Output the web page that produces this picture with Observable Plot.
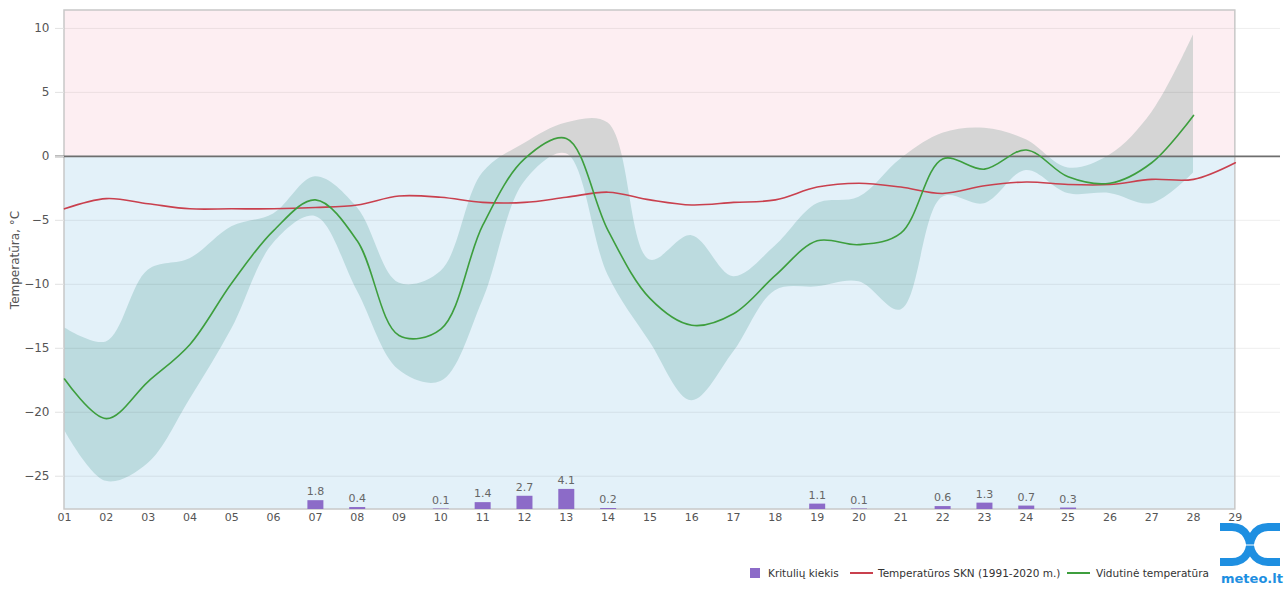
<!DOCTYPE html>
<html><head><meta charset="utf-8">
<script src="https://cdn.jsdelivr.net/npm/d3@7"></script>
<script src="https://cdn.jsdelivr.net/npm/@observablehq/plot@0.6"></script>
<style>
body{margin:0;background:#fff;font-family:"DejaVu Sans",Verdana,sans-serif;}
#wrap{position:relative;width:1288px;height:589px;overflow:hidden;}
#legend{position:absolute;left:0;top:564px;width:1288px;height:18px;font-size:10.5px;color:#333;}
#legend .it{position:absolute;top:0;line-height:16px;white-space:nowrap;}
#legend .sw{display:inline-block;vertical-align:middle;}
#logo{position:absolute;left:1220px;top:522px;width:66px;height:66px;}
#logo .t{position:absolute;left:1px;top:49px;font:bold 13px "DejaVu Sans",sans-serif;color:#1e8fe1;}
</style></head><body>
<div id="wrap">
<div id="chart"></div>
<div id="legend"></div>
<div id="logo">
<svg width="60" height="46" viewBox="0 0 60 46">
<path d="M0,5 H12 C28,5 30,22 30,22 C30,22 32,5 48,5 H60" fill="none" stroke="#1e8fe1" stroke-width="8"/>
<path d="M0,40 H12 C28,40 30,24 30,24 C30,24 32,40 48,40 H60" fill="none" stroke="#1e8fe1" stroke-width="8"/>
</svg>
<div class="t">meteo.lt</div>
</div>
</div>
<script>
// ---- data ----
const days = [1,2,3,4,5,6,7,8,9,10,11,12,13,14,15,16,17,18,19,20,21,22,23,24,25,26,27,28];
const avgTemp = [-17.4,-20.5,-17.6,-14.7,-9.9,-5.8,-3.4,-6.6,-14.0,-13.5,-5.4,-0.2,1.4,-5.8,-11.1,-13.2,-12.3,-9.3,-6.6,-6.9,-6.0,-0.2,-1.0,0.5,-1.6,-2.1,-0.5,3.2];
const bandMin = [-21.4,-25.4,-24.0,-19.0,-13.5,-6.8,-4.7,-10.5,-16.7,-17.6,-11.3,-2.0,0.2,-9.3,-14.5,-19.1,-15.3,-10.5,-10.2,-9.8,-12.0,-3.2,-3.7,-1.1,-2.9,-2.9,-3.7,-1.3];
const bandMax = [-13.4,-14.5,-8.9,-8.0,-5.5,-4.5,-1.6,-4.0,-9.9,-9.0,-1.3,1.0,2.6,2.6,-8.1,-6.2,-9.4,-7.0,-3.7,-3.2,-0.2,1.8,2.2,1.3,-0.9,0.1,3.4,9.5];
const normDays = [1,2,3,4,5,6,7,8,9,10,11,12,13,14,15,16,17,18,19,20,21,22,23,24,25,26,27,28,29];
const normTemp = [-4.1,-3.3,-3.7,-4.1,-4.1,-4.1,-4.0,-3.8,-3.1,-3.2,-3.6,-3.6,-3.2,-2.8,-3.4,-3.8,-3.6,-3.4,-2.4,-2.1,-2.4,-2.9,-2.3,-2.0,-2.2,-2.2,-1.8,-1.8,-0.5];
const precipDays = [7,8,10,11,12,13,14,19,20,22,23,24,25];
const precipMm = [1.8,0.4,0.1,1.4,2.7,4.1,0.2,1.1,0.1,0.6,1.3,0.7,0.3];
const xTicks = [1,2,3,4,5,6,7,8,9,10,11,12,13,14,15,16,17,18,19,20,21,22,23,24,25,26,27,28,29];
const yTicks = [-25,-20,-15,-10,-5,0,5,10];
const legendItems = ["Kritulių kiekis","Temperatūros SKN (1991-2020 m.)","Vidutinė temperatūra"];

// ---- chart settings ----
const yDomain = [-27.6, 11.4];
const xDomain = [1, 30.08];
const xFirst = 1, xLast = 29;
const mmToDeg = 0.383; // secondary (precipitation) axis scale
const C = {pink:"#fdeef2", blue:"#e3f1f9", teal:"#bcdbdf", grey:"#d5d5d5", red:"#c9404e", green:"#3d9e3d", purple:"#8c6bc8"};

const band = days.map((d,i)=>({day:d, lo:bandMin[i], hi:bandMax[i]}));
const avg = days.map((d,i)=>({day:d, t:avgTemp[i]}));
const norm = normDays.map((d,i)=>({day:d, t:normTemp[i]}));
const precip = precipDays.map((d,i)=>({day:d, mm:precipMm[i], top: yDomain[0] + precipMm[i]*mmToDeg}));
const zones = [
  {y1: 0, y2: yDomain[1], fill: C.pink},
  {y1: yDomain[0], y2: 0, fill: C.blue}
];
const curve = "catmull-rom";

const chart = Plot.plot({
  width: 1288, height: 540,
  marginLeft: 64, marginRight: 8, marginTop: 10, marginBottom: 31,
  style: {fontFamily: '"DejaVu Sans", Verdana, sans-serif', fontSize: "11px", color: "#666", background: "transparent"},
  x: {domain: xDomain, label: null},
  y: {domain: yDomain},
  marks: [
    Plot.rect(zones, {x1: () => xFirst, x2: () => xLast, y1: "y1", y2: "y2", fill: "fill"}),
    Plot.areaY(band, {x: "day", y1: "lo", y2: "hi", curve, fill: C.teal}),
    Plot.areaY(band, {x: "day", y1: "lo", y2: "hi", curve, fill: C.grey}),
    Plot.ruleY(yTicks.filter(d => d !== 0), {stroke: "#000", strokeOpacity: 0.07}),
    Plot.rect([zones[0]], {x1: () => xFirst, x2: () => xLast, y1: () => yDomain[0], y2: () => yDomain[1], fill: "none", stroke: "#c8c8c8", strokeWidth: 1.5}),
    Plot.ruleY([0], {stroke: "#6e6e6e", strokeWidth: 1.6, insetLeft: -9}),
    Plot.ruleX(precip, {x: "day", y1: () => yDomain[0], y2: "top", stroke: C.purple, strokeWidth: 16}),
    Plot.text(precip, {x: "day", y: "top", text: d => d.mm.toFixed(1), dy: -9, fill: "#666", fontSize: 11}),
    Plot.line(norm, {x: "day", y: "t", curve, stroke: C.red, strokeWidth: 1.6}),
    Plot.line(avg, {x: "day", y: "t", curve, stroke: C.green, strokeWidth: 1.6}),
    Plot.axisX({ticks: xTicks, tickFormat: d => String(d).padStart(2, "0"), tickSize: 0, tickPadding: 4, fill: "#555", label: null}),
    Plot.axisY({ticks: yTicks, tickSize: 9, tickPadding: 6, stroke: "#e2e2e2", fill: "#555", fontSize: 12,
      label: "Temperatūra, °C", labelAnchor: "center", labelArrow: "none", labelOffset: 54})
  ]
});
document.getElementById("chart").appendChild(chart);

// clip the band: grey above 0, teal below 0
const y0 = chart.scale("y").apply(0);
const ns = "http://www.w3.org/2000/svg";
const defs = document.createElementNS(ns, "defs");
[["clipAbove", 0, y0], ["clipBelow", y0, 540 - y0]].forEach(([id, y, h]) => {
  const cp = document.createElementNS(ns, "clipPath"); cp.setAttribute("id", id);
  const r = document.createElementNS(ns, "rect");
  r.setAttribute("x", 0); r.setAttribute("y", y); r.setAttribute("width", 1288); r.setAttribute("height", h);
  cp.appendChild(r); defs.appendChild(cp);
});
chart.insertBefore(defs, chart.firstChild);
const areas = chart.querySelectorAll('g[aria-label="area"]');
const wrapClip = (g, id) => {
  if (!g) return;
  const outer = document.createElementNS(ns, "g");
  outer.setAttribute("clip-path", `url(#${id})`);
  g.parentNode.insertBefore(outer, g); outer.appendChild(g);
};
wrapClip(areas[0], "clipBelow");
wrapClip(areas[1], "clipAbove");

// legend
const lg = document.getElementById("legend");
const lefts = [750, 850, 1067];
const sw = [
  `<span class="sw" style="width:10px;height:10px;background:${C.purple};margin-right:8px"></span>`,
  `<span class="sw" style="width:23px;height:2px;background:${C.red};margin-right:5px"></span>`,
  `<span class="sw" style="width:23px;height:2px;background:${C.green};margin-right:6px"></span>`
];
legendItems.forEach((t, i) => {
  const s = document.createElement("span"); s.className = "it"; s.style.left = lefts[i] + "px";
  s.innerHTML = sw[i] + `<span style="vertical-align:middle">${t}</span>`;
  lg.appendChild(s);
});
</script>
</body></html>
